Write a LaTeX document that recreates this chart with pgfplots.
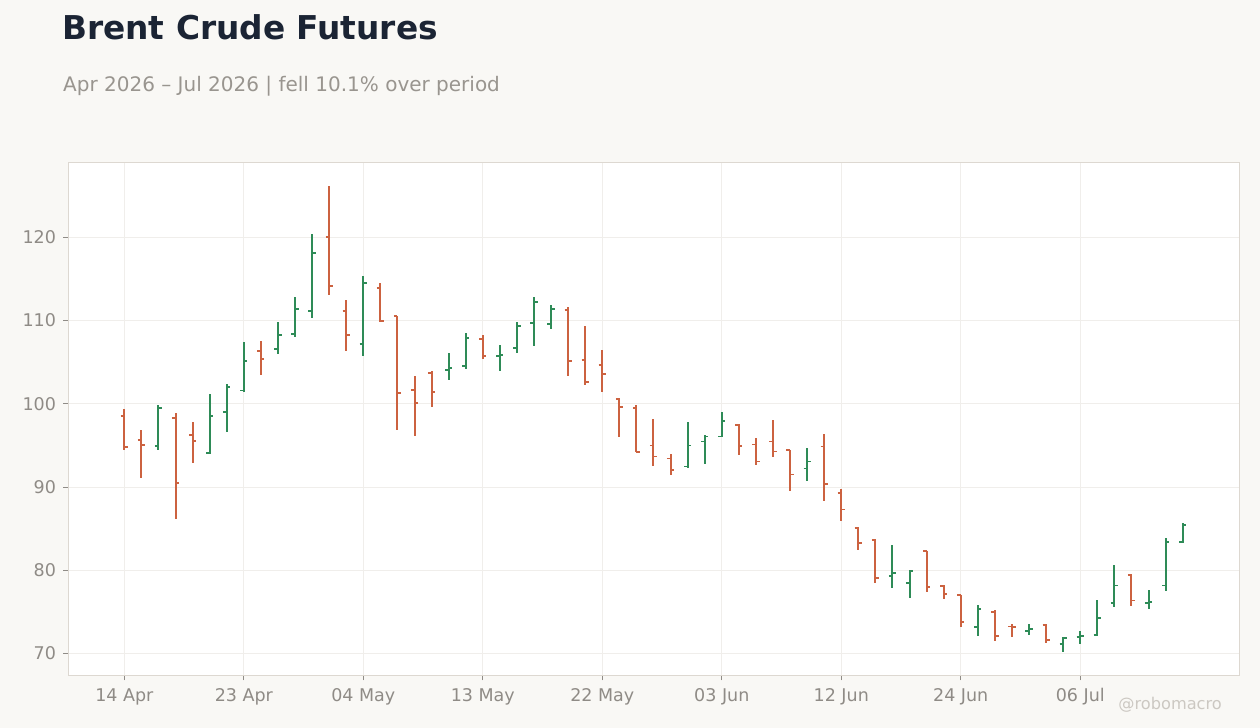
\documentclass[border=0pt]{standalone}
\usepackage{pgfplots}
\pgfplotsset{compat=1.18}
\usepackage{pgfplotstable}
\usepackage{fontspec}
\setmainfont{DejaVu Sans}

\definecolor{bgc}{RGB}{249,248,245}
\definecolor{framec}{RGB}{221,216,209}
\definecolor{gridc}{RGB}{240,238,235}
\definecolor{tickc}{RGB}{143,139,134}
\definecolor{titlec}{RGB}{27,36,52}
\definecolor{subc}{RGB}{153,149,143}
\definecolor{markc}{RGB}{204,200,194}
\definecolor{upc}{RGB}{46,139,87}
\definecolor{downc}{RGB}{204,98,64}

% open tick to the left, close tick to the right
\pgfdeclareplotmark{otick}{\pgfpathmoveto{\pgfpoint{-3.6bp}{0pt}}\pgfpathlineto{\pgfpoint{0pt}{0pt}}\pgfusepathqstroke}
\pgfdeclareplotmark{ctick}{\pgfpathmoveto{\pgfpoint{0pt}{0pt}}\pgfpathlineto{\pgfpoint{3.6bp}{0pt}}\pgfusepathqstroke}

% i = trading day index
\pgfplotstableread{
i  o      h      l      c
2  94.90  99.90  94.45  99.46
5  94.05  101.15 94.00  98.50
6  98.98  102.35 96.61  102.03
7  101.59 107.40 101.43 105.12
9  106.60 109.81 106.00 108.29
10 108.39 112.81 108.03 111.41
11 111.12 120.40 110.32 118.11
14 107.19 115.30 105.74 114.50
19 104.02 106.06 102.85 104.26
20 104.50 108.45 104.18 107.87
22 105.70 107.11 103.94 105.86
23 106.71 109.76 106.10 109.36
24 109.72 112.81 106.95 112.21
25 109.60 111.85 109.00 111.41
33 92.45  97.83  92.41  94.98
34 95.46  96.22  92.81  96.06
35 96.06  99.04  96.02  97.87
40 92.21  94.70  90.72  93.05
45 79.26  82.97  77.86  79.62
46 78.46  80.06  76.67  79.90
50 73.19  75.85  72.12  75.35
53 72.67  73.47  72.24  72.96
55 71.16  71.97  70.20  71.89
56 72.01  72.65  71.16  72.13
57 72.21  76.43  72.17  74.30
58 76.10  80.60  75.54  78.15
60 76.05  77.63  75.38  76.12
61 78.15  83.90  77.47  83.41
62 83.41  85.66  83.25  85.42
}\upbars

\pgfplotstableread{
i  o      h      l      c
0  98.50  99.40  94.45  94.77
1  95.60  96.90  91.08  95.00
3  98.26  98.94  86.14  90.44
4  96.21  97.86  92.88  95.49
8  106.32 107.52 103.43 105.36
12 120.04 126.18 113.09 114.14
13 111.12 112.45 106.35 108.23
15 113.94 114.46 109.76 109.92
16 110.56 110.60 96.83  101.24
17 101.60 103.37 96.10  100.04
18 103.70 103.98 99.60  101.37
21 107.75 108.31 105.38 105.70
26 111.29 111.57 103.33 105.14
27 105.22 109.32 102.25 102.57
28 104.66 106.43 101.41 103.53
29 100.56 100.72 95.98  99.56
30 99.44  99.86  94.19  94.22
31 94.98  98.15  92.57  93.65
32 93.41  93.94  91.49  92.05
36 97.39  97.55  93.86  94.94
37 95.10  95.86  92.69  93.05
38 95.46  98.07  93.65  94.26
39 94.42  94.46  89.56  91.49
41 94.86  96.39  88.35  90.36
42 89.22  89.74  85.85  87.28
43 85.05  85.21  82.42  83.25
44 83.57  83.77  78.50  79.02
47 82.30  82.34  77.39  77.94
48 78.06  78.26  76.55  77.11
49 77.03  77.05  73.19  73.75
51 74.99  75.15  71.52  72.12
52 73.22  73.47  71.99  73.15
54 73.45  73.49  71.20  71.65
59 79.44  79.48  75.74  76.35
}\downbars

\begin{document}
\begin{tikzpicture}
\path[use as bounding box, fill=bgc] (0,0) rectangle (1260bp,728bp);

\node[anchor=base west, inner sep=0pt, text=titlec, font=\fontsize{32.8bp}{40bp}\selectfont\bfseries]
  at (62bp,688bp) {Brent Crude Futures};
\node[anchor=base west, inner sep=0pt, text=subc, font=\fontsize{20bp}{24bp}\selectfont]
  at (63bp,636.3bp) {Apr 2026 – Jul 2026 | fell 10.1\% over period};
\node[anchor=base east, inner sep=0pt, text=markc, font=\fontsize{16.2bp}{20bp}\selectfont]
  at (1222bp,18.7bp) {@robomacro};

\begin{axis}[
  at={(68.5bp,52.7bp)}, anchor=south west,
  width=1170.8bp, height=513.3bp, scale only axis,
  xmin=-3.27, xmax=65.32, ymin=67.36, ymax=129.05,
  axis background/.style={fill=white},
  axis line style={draw=framec, line width=0.9bp},
  grid=major, major grid style={draw=gridc, line width=0.8bp},
  tick pos=left, tick align=outside, major tick length=5bp,
  tick style={draw=tickc, line width=0.8bp},
  xtick={0,7,14,21,28,35,42,49,56},
  xticklabels={14 Apr,23 Apr,04 May,13 May,22 May,03 Jun,12 Jun,24 Jun,06 Jul},
  ytick={70,80,90,100,110,120},
  ticklabel style={font=\fontsize{17.5bp}{21bp}\selectfont, text=tickc},
  xticklabel style={yshift=-4.5bp},
  yticklabel style={xshift=-4bp},
  /pgf/number format/assume math mode=true,
]
\addplot[only marks, mark=otick, mark options={line width=1.9bp, draw=upc},
  error bars/.cd, y dir=both, y explicit, error mark=none,
  error bar style={line width=2bp, draw=upc}]
  table[x=i, y=o, y error plus expr=\thisrow{h}-\thisrow{o}, y error minus expr=\thisrow{o}-\thisrow{l}] {\upbars};
\addplot[only marks, mark=ctick, mark options={line width=1.9bp, draw=upc}]
  table[x=i, y=c] {\upbars};
\addplot[only marks, mark=otick, mark options={line width=1.9bp, draw=downc},
  error bars/.cd, y dir=both, y explicit, error mark=none,
  error bar style={line width=2bp, draw=downc}]
  table[x=i, y=o, y error plus expr=\thisrow{h}-\thisrow{o}, y error minus expr=\thisrow{o}-\thisrow{l}] {\downbars};
\addplot[only marks, mark=ctick, mark options={line width=1.9bp, draw=downc}]
  table[x=i, y=c] {\downbars};
\end{axis}
\end{tikzpicture}
\end{document}
